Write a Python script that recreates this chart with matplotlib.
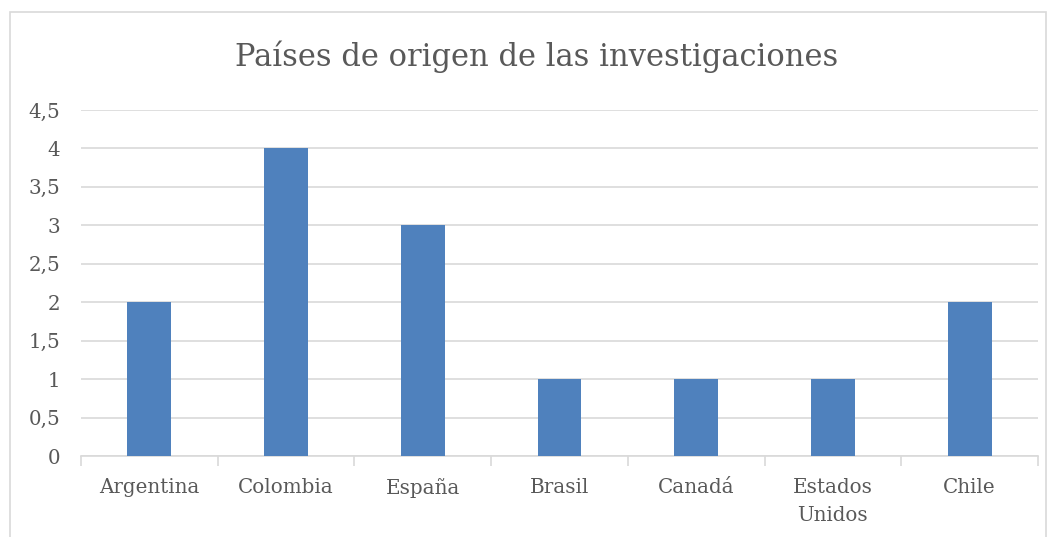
import matplotlib.pyplot as plt
from matplotlib.patches import Rectangle
from matplotlib.ticker import FuncFormatter

paises = ['Argentina', 'Colombia', 'España', 'Brasil', 'Canadá', 'Estados\nUnidos', 'Chile']
investigaciones = [2, 4, 3, 1, 1, 1, 2]
titulo = 'Países de origen de las investigaciones'

plt.rcParams['font.family'] = ['DejaVu Serif']
gris = '#595959'

fig = plt.figure(figsize=(10.51, 5.37), dpi=100)
# borde del area del grafico
fig.patches.append(Rectangle((10 / 1051, -0.05), 1036 / 1051, 1.05 - 12 / 537,
                             transform=fig.transFigure, fill=False,
                             edgecolor='#D9D9D9', linewidth=1.2))

ax = fig.add_axes([81 / 1051, 1 - 456 / 537, 957 / 1051, 346 / 537])
x = range(len(paises))
ax.bar(x, investigaciones, width=0.32, color='#4F81BD', zorder=3)

ax.set_xlim(-0.5, len(paises) - 0.5)
ax.set_ylim(0, 4.5)
ax.set_yticks([i * 0.5 for i in range(10)])
ax.yaxis.set_major_formatter(FuncFormatter(lambda v, p: ('%g' % v).replace('.', ',')))
ax.grid(axis='y', color='#D9D9D9', linewidth=1.2, zorder=0)

ax.set_xticks(list(x))
ax.set_xticklabels(paises, fontsize=14.3, color=gris, linespacing=1.6)
ax.set_xticks([i - 0.5 for i in range(len(paises) + 1)], minor=True)
ax.tick_params(axis='x', which='major', length=0, pad=16)
ax.tick_params(axis='x', which='minor', length=7, color='#D9D9D9', width=1.2)
ax.tick_params(axis='y', length=0, labelsize=14.3, labelcolor=gris, pad=15)

for s in ['top', 'right', 'left']:
    ax.spines[s].set_visible(False)
ax.spines['bottom'].set_color('#D9D9D9')
ax.spines['bottom'].set_linewidth(1.2)

fig.text(0.511, 1 - 57 / 537, titulo, ha='center', va='center', fontsize=22, color=gris)

fig.savefig('out.png', dpi=100)
